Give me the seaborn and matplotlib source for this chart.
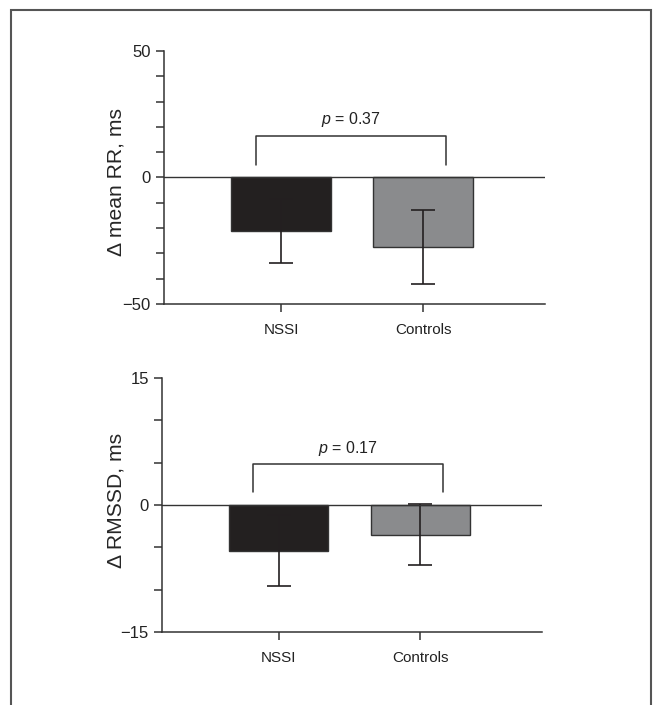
import numpy as np
import pandas as pd
import seaborn as sns
import matplotlib.pyplot as plt
from matplotlib.patches import Rectangle

groups = ['NSSI', 'Controls']
bar_cols = ['#231f20', '#8a8b8d']

# panel 1: change in mean RR
rr_mean = [-21.3, -27.4]
rr_sem = [12.6, 14.7]
rr_p = 0.37

# panel 2: change in RMSSD
rmssd_mean = [-5.4, -3.5]
rmssd_sem = [4.2, 3.6]
rmssd_p = 0.17

sns.set_style('ticks')
plt.rcParams['font.family'] = ['Liberation Sans', 'DejaVu Sans']
plt.rcParams['mathtext.fontset'] = 'custom'
plt.rcParams['mathtext.rm'] = 'Liberation Sans'
plt.rcParams['mathtext.it'] = 'Liberation Sans:italic'

line_col = '#333333'

fig = plt.figure(figsize=(6.55, 7.05), dpi=100)
ax1 = fig.add_axes([0.2504, 0.5688, 0.582, 0.3589])
ax2 = fig.add_axes([0.2473, 0.1035, 0.580, 0.3603])


def panel(ax, means, sems, pval, lim, minor, ylabel, br_top, br_leg, p_y, lab_xy):
    df = pd.DataFrame({'group': groups, 'value': means})
    sns.barplot(data=df, x='group', y='value', hue='group', palette=bar_cols,
                width=0.70, edgecolor=line_col, linewidth=1, legend=False, ax=ax,
                zorder=2)
    ax.errorbar(x=np.arange(len(groups)), y=means, yerr=sems, fmt='none',
                ecolor='#231f20', elinewidth=1.2, capsize=8.6, capthick=1.2, zorder=3)
    ax.axhline(0, color=line_col, lw=1, zorder=4)
    ax.set_ylim(-lim, lim)
    ax.set_xlim(-0.824, 1.859)
    ax.set_yticks(np.arange(-lim, lim + 0.1, minor), minor=True)
    ax.set_yticks([-lim, 0, lim])
    ax.set_yticklabels([f'{-lim:g}'.replace('-', '\u2212'), '0', f'{lim:g}'])
    ax.set_xlabel('')
    ax.set_ylabel(ylabel, fontsize=15.2)
    ax.yaxis.set_label_coords(*lab_xy)
    for s in ['top', 'right']:
        ax.spines[s].set_visible(False)
    for s in ['left', 'bottom']:
        ax.spines[s].set_color(line_col)
        ax.spines[s].set_linewidth(1.1)
    ax.tick_params(axis='both', which='both', colors=line_col, width=1.1,
                   labelcolor='#222222', labelsize=11)
    ax.tick_params(axis='y', labelsize=12)
    ax.tick_params(axis='both', which='major', length=6)
    ax.tick_params(axis='y', which='minor', length=6)
    ax.tick_params(axis='x', pad=8)
    # significance bracket
    x0, x1 = -0.18, 1.16
    ax.plot([x0, x0, x1, x1], [br_leg, br_top, br_top, br_leg],
            color=line_col, lw=1.1, zorder=4)
    ax.text((x0 + x1) / 2, p_y, f'$\\it{{p}}$ = {pval:.2f}', ha='center',
            va='bottom', fontsize=11.5, color='#222222')


panel(ax1, rr_mean, rr_sem, rr_p, 50, 10, '\u0394 mean RR, ms', 16.5, 5.1, 19.0,
      (-0.102, 0.484))
panel(ax2, rmssd_mean, rmssd_sem, rmssd_p, 15, 5, '\u0394 RMSSD, ms', 4.9, 1.5, 5.6,
      (-0.097, 0.52))

fig.add_artist(Rectangle((11 / 655, -0.05), 640 / 655, 1 - 10 / 705 + 0.05,
                         transform=fig.transFigure, fill=False,
                         edgecolor='#555555', lw=1.5))

fig.savefig('out.png', dpi=100)
